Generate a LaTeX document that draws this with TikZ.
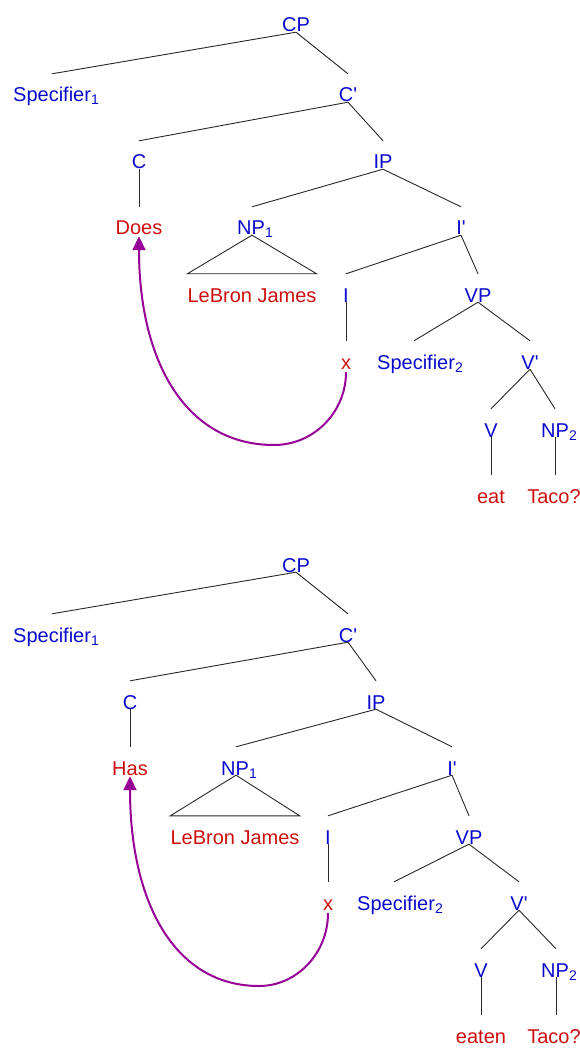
\documentclass[tikz,border=0pt]{standalone}
\usepackage{fontspec}
\setmainfont{Liberation Sans}
\usetikzlibrary{arrows.meta}
\definecolor{synblue}{RGB}{10,10,205}
\definecolor{synred}{RGB}{205,15,15}
\definecolor{synpurple}{RGB}{150,0,150}
\definecolor{synline}{RGB}{40,40,40}
\newcommand{\lsub}[1]{\raisebox{-3pt}{\fontsize{14}{14}\selectfont #1}}
\begin{document}
\begin{tikzpicture}[x=1pt,y=-1pt,
  lab/.style={anchor=base, inner sep=0pt, text height=14pt, text depth=0pt, font=\fontsize{20}{20}\selectfont},
  cat/.style={lab, text=synblue},
  word/.style={lab, text=synred},
  edge/.style={draw=synline, line width=0.9pt},
  move/.style={draw=synpurple, line width=2pt, -{Triangle[width=13pt,length=14pt]}}]
\fill[white] (0,0) rectangle (579,1048);
\useasboundingbox (0,0) rectangle (579,1048);

% ---------------- top tree ----------------
\node[cat] (tCP) at (296,32) {CP};
\node[cat] (tSpecA) at (56,102) {Specifier\lsub{1}};
\node[cat] (tCbar) at (348,102) {C\textquotesingle};
\node[cat] (tC) at (139,169) {C};
\node[cat] (tIP) at (383,169) {IP};
\node[word] (tDoes) at (139,235) {Does};
\node[cat] (tNP) at (255,235) {NP\lsub{1}};
\node[cat] (tIbar) at (461,235) {I\textquotesingle};
\node[word] (tLJ) at (252,302) {LeBron James};
\node[cat] (tI) at (346,302) {I};
\node[cat] (tVP) at (478,302) {VP};
\node[word] (tx) at (346,369) {x};
\node[cat] (tSpecB) at (420,369) {Specifier\lsub{2}};
\node[cat] (tVbar) at (530,369) {V\textquotesingle};
\node[cat] (tV) at (491,437) {V};
\node[cat] (tNPb) at (559,437) {NP\lsub{2}};
\node[word] (teat) at (491,503) {eat};
\node[word] (tTaco) at (554,503) {Taco?};

\draw[edge] (tCP.south) -- ([xshift=-4pt,yshift=14pt]tSpecA.north);
\draw[edge] (tCP.south) -- ([yshift=14pt]tCbar.north);
\draw[edge] (tCbar.south) -- ([yshift=14pt]tC.north);
\draw[edge] (tCbar.south) -- ([yshift=14pt]tIP.north);
\draw[edge] (tC.south) -- ([yshift=14pt]tDoes.north);
\draw[edge] (tIP.south) -- ([xshift=-3pt,yshift=14pt]tNP.north);
\draw[edge] (tIP.south) -- ([yshift=14pt]tIbar.north);
\draw[edge] ([xshift=-3pt]tNP.south) -- ([yshift=14pt]tLJ.north west) -- ([yshift=14pt]tLJ.north east) -- cycle;
\draw[edge] (tIbar.south) -- ([yshift=14pt]tI.north);
\draw[edge] (tIbar.south) -- ([yshift=14pt]tVP.north);
\draw[edge] (tI.south) -- ([yshift=14pt]tx.north);
\draw[edge] (tVP.south) -- ([xshift=-6pt,yshift=14pt]tSpecB.north);
\draw[edge] (tVP.south) -- ([yshift=14pt]tVbar.north);
\draw[edge] (tVbar.south) -- ([yshift=14pt]tV.north);
\draw[edge] (tVbar.south) -- ([xshift=-4pt,yshift=14pt]tNPb.north);
\draw[edge] (tV.south) -- ([yshift=14pt]teat.north);
\draw[edge] ([xshift=-4pt]tNPb.south) -- ([xshift=1pt,yshift=14pt]tTaco.north);

\coordinate (tlow) at (274,445);
\draw[move] ([yshift=-3pt]tx.south) .. controls (346,412) and (314,445) .. (tlow)
  .. controls (186,445) and (139,362) .. ([yshift=-1pt]tDoes.south);

% ---------------- bottom tree ----------------
\node[cat] (bCP) at (296,572) {CP};
\node[cat] (bSpecA) at (56,642) {Specifier\lsub{1}};
\node[cat] (bCbar) at (348,642) {C\textquotesingle};
\node[cat] (bC) at (130,709) {C};
\node[cat] (bIP) at (376,709) {IP};
\node[word] (bHas) at (130,775) {Has};
\node[cat] (bNP) at (239,775) {NP\lsub{1}};
\node[cat] (bIbar) at (452,775) {I\textquotesingle};
\node[word] (bLJ) at (235,844) {LeBron James};
\node[cat] (bI) at (328,844) {I};
\node[cat] (bVP) at (469,844) {VP};
\node[word] (bx) at (328,910) {x};
\node[cat] (bSpecB) at (400,910) {Specifier\lsub{2}};
\node[cat] (bVbar) at (519,910) {V\textquotesingle};
\node[cat] (bV) at (481,977) {V};
\node[cat] (bNPb) at (559,977) {NP\lsub{2}};
\node[word] (beaten) at (481,1043) {eaten};
\node[word] (bTaco) at (554,1043) {Taco?};

\draw[edge] (bCP.south) -- ([xshift=-4pt,yshift=14pt]bSpecA.north);
\draw[edge] (bCP.south) -- ([yshift=14pt]bCbar.north);
\draw[edge] (bCbar.south) -- ([yshift=14pt]bC.north);
\draw[edge] (bCbar.south) -- ([yshift=14pt]bIP.north);
\draw[edge] (bC.south) -- ([yshift=14pt]bHas.north);
\draw[edge] (bIP.south) -- ([xshift=-3pt,yshift=14pt]bNP.north);
\draw[edge] (bIP.south) -- ([yshift=14pt]bIbar.north);
\draw[edge] ([xshift=-3pt]bNP.south) -- ([yshift=14pt]bLJ.north west) -- ([yshift=14pt]bLJ.north east) -- cycle;
\draw[edge] (bIbar.south) -- ([yshift=14pt]bI.north);
\draw[edge] (bIbar.south) -- ([yshift=14pt]bVP.north);
\draw[edge] (bI.south) -- ([yshift=14pt]bx.north);
\draw[edge] (bVP.south) -- ([xshift=-6pt,yshift=14pt]bSpecB.north);
\draw[edge] (bVP.south) -- ([yshift=14pt]bVbar.north);
\draw[edge] (bVbar.south) -- ([yshift=14pt]bV.north);
\draw[edge] (bVbar.south) -- ([xshift=-3pt,yshift=14pt]bNPb.north);
\draw[edge] (bV.south) -- ([yshift=14pt]beaten.north);
\draw[edge] ([xshift=-3pt]bNPb.south) -- ([xshift=2pt,yshift=14pt]bTaco.north);

\coordinate (blow) at (259,986);
\draw[move] ([yshift=-3pt]bx.south) .. controls (328,953) and (297,986) .. (blow)
  .. controls (175,986) and (130,903) .. ([yshift=-1pt]bHas.south);
\end{tikzpicture}
\end{document}
